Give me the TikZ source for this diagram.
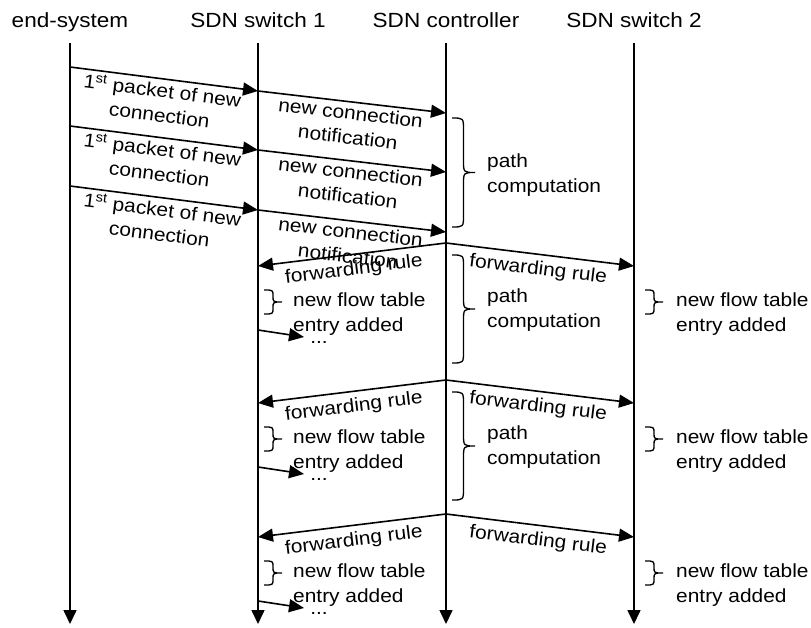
\documentclass[tikz,border=0pt]{standalone}
\usepackage{fontspec}
\setmainfont[FakeStretch=1.1]{Liberation Sans}
\usetikzlibrary{arrows.meta}

% right-opening curly bracket: x, top y, bottom y, width, corner radius
\newcommand{\curlybr}[5]{%
  \draw[brc] (#1,#2)
    .. controls ({#1+#4/2},#2) .. ({#1+#4/2},{#2+#5})
    -- ({#1+#4/2},{(#2+#3)/2-#5})
    .. controls ({#1+#4/2},{(#2+#3)/2}) .. ({#1+#4},{(#2+#3)/2})
    .. controls ({#1+#4/2},{(#2+#3)/2}) .. ({#1+#4/2},{(#2+#3)/2+#5})
    -- ({#1+#4/2},{#3-#5})
    .. controls ({#1+#4/2},#3) .. (#1,#3);}

\begin{document}
\begin{tikzpicture}[x=1pt,y=-1pt,
  every node/.style={font=\fontsize{19}{24.5}\selectfont},
  head/.style={anchor=base,font=\fontsize{20.5}{24.5}\selectfont},
  life/.style={line width=1.6pt,-{Triangle[length=14pt,width=13pt]}},
  msg/.style={line width=1.6pt,-{Triangle[length=15pt,width=13pt]}},
  lbl/.style={sloped,below,align=center,inner sep=3pt},
  rule/.style={sloped,below,inner sep=6pt},
  note/.style={anchor=west,align=left,inner sep=0pt},
  brc/.style={line width=1.3pt}]
\useasboundingbox[fill=white] (0,0) rectangle (811,628);

% participants
\node[head] (hE) at (70,28) {end-system};
\node[head] (hS1) at (258,28) {SDN switch 1};
\node[head] (hC) at (446,28) {SDN controller};
\node[head] (hS2) at (634,28) {SDN switch 2};

% lifelines
\foreach \n/\x in {E/70,S1/258,C/446,S2/634}{
  \coordinate (\n top) at (\x,43);
  \coordinate (\n bot) at (\x,624);
  \draw[life] (\n top) -- (\n bot);
}

% first packets and notifications
\foreach \i/\y in {1/67,2/126,3/186}{
  \coordinate (a\i) at (70,\y);
  \coordinate (b\i) at (258,{\y+24});
  \coordinate (c\i) at (446,{\y+46});
  \draw[msg] (a\i) -- node[lbl] (pk\i) {1\textsuperscript{st} packet of new\\connection} (b\i);
  \draw[msg] (b\i) -- node[lbl] (nc\i) {new connection\\notification} (c\i);
}

% first path computation
\curlybr{452}{118}{227}{23}{12}
\node[note] (pc0) at (487,175) {path\\computation};

% forwarding rules and flow table updates
\foreach \r/\p in {1/243,2/380,3/514}{
  \coordinate (P\r) at (446,\p);
  \coordinate (L\r) at (258,{\p+23});
  \coordinate (R\r) at (634,{\p+23});
  \draw[msg] (P\r) -- node[rule] (fl\r) {forwarding rule} (L\r);
  \draw[msg] (P\r) -- node[rule] (fr\r) {forwarding rule} (R\r);
  \curlybr{264}{\p+47}{\p+71}{18}{6}
  \node[note] (ftl\r) at (293,{\p+71}) {new flow table\\entry added};
  \curlybr{645}{\p+47}{\p+71}{18}{6}
  \node[note] (ftr\r) at (676,{\p+71}) {new flow table\\entry added};
  \coordinate (s\r) at (258,{\p+87});
  \coordinate (t\r) at (304,{\p+94});
  \draw[msg] (s\r) -- (t\r);
  \node (dots\r) at (319,{\p+99}) {...};
}

% later path computations
\foreach \r/\p in {1/243,2/380}{
  \curlybr{452}{\p+12}{\p+120}{23}{12}
  \node[note] (pc\r) at (487,{\p+67}) {path\\computation};
}
\end{tikzpicture}
\end{document}
